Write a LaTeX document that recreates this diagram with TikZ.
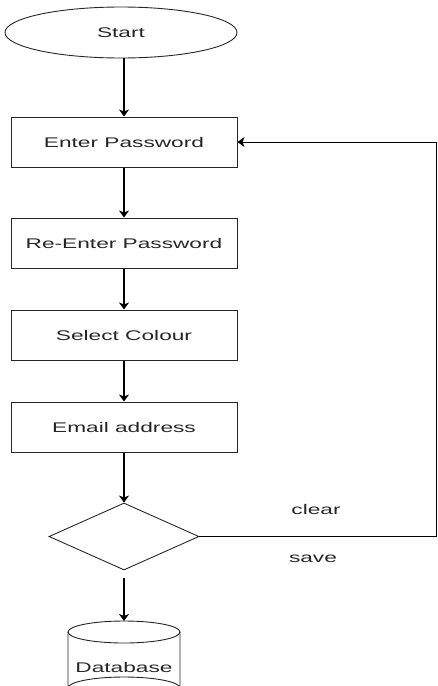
\documentclass[tikz,border=0pt]{standalone}
\usepackage{fontspec}
\setmainfont{Liberation Sans}[FakeStretch=1.62]
\usetikzlibrary{shapes.geometric,arrows.meta}
\begin{document}
\begin{tikzpicture}[x=1pt,y=-1pt,
  every node/.style={font=\fontsize{14}{16}\selectfont, text=black!85},
  procbox/.style={draw=black!85, line width=1pt, rectangle, minimum width=226pt, minimum height=50pt, inner sep=0pt},
  termin/.style={draw=black!85, line width=0.9pt, ellipse, minimum width=232pt, minimum height=51pt, inner sep=0pt},
  decide/.style={draw=black!85, line width=0.9pt, diamond, aspect=2.24, minimum width=150pt, minimum height=67pt, inner sep=0pt},
  flow/.style={draw=black, line width=1.2pt, -{Stealth[length=7pt,width=10pt,inset=2pt]}},
  link/.style={draw=black, line width=0.9pt},
  lbl/.style={inner sep=0pt}]
\useasboundingbox (0,0) rectangle (437,686);
\clip (0,0) rectangle (437,686);
\node[termin] (start) at (121,32.5) {Start};
\node[procbox] (p1) at (124,142) {Enter Password};
\node[procbox] (p2) at (124,243) {Re-Enter Password};
\node[procbox] (p3) at (124,335) {Select Colour};
\node[procbox] (p4) at (124,427) {Email address};
\node[decide] (dec) at (124,536.5) {};
\coordinate (rx) at (436,0);
\coordinate (s) at (124,578);
\coordinate (dbtop) at (124,621);
\node[lbl] (clear) at (316,509) {clear};
\node[lbl] (save) at (313,559) {save};
% database cylinder
\draw[draw=black!85, line width=0.9pt] (124,632) ellipse [x radius=56, y radius=11];
\draw[draw=black!85, line width=0.9pt] (68,632) -- (68,688) arc[start angle=180, end angle=360, x radius=56, y radius=11] -- (180,632);
\node[lbl] (db) at (124,667) {Database};
% connectors
\draw[flow] (p1.north |- start.south) -- (p1.north);
\draw[flow] (p1.south) -- (p2.north);
\draw[flow] (p2.south) -- (p3.north);
\draw[flow] (p3.south) -- (p4.north);
\draw[flow] (p4.south) -- (dec.north);
\draw[flow] (s) -- (dbtop);
\draw[link] (dec.east) -- (dec.east -| rx) -- (p1.east -| rx);
\draw[link, -{Stealth[length=7pt,width=10pt,inset=2pt]}] (p1.east -| rx) -- (p1.east);
\end{tikzpicture}
\end{document}
